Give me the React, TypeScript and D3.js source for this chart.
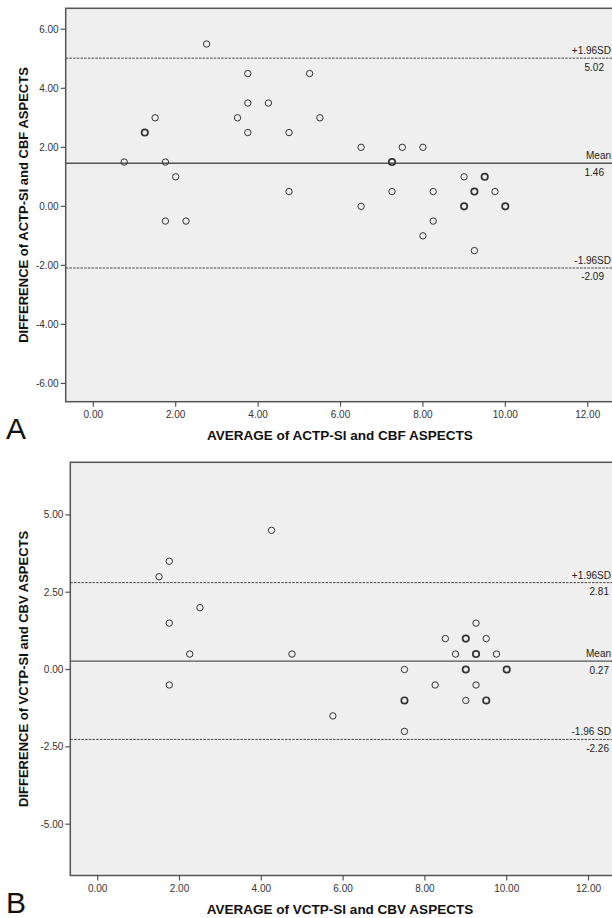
import React from 'react'
import * as d3 from 'd3'

// Panel A: ACTP-SI vs CBF ASPECTS (Bland-Altman)
const avgA = [0.75, 1.25, 1.5, 1.75, 2.0, 1.75, 2.25, 2.75, 3.5, 3.75, 3.75, 3.75, 4.25, 4.75, 4.75, 5.25, 5.5, 6.5, 6.5, 7.5, 8.0, 7.25, 7.25, 8.25, 8.25, 8.0, 9.25, 9.0, 9.5, 9.25, 9.75, 9.0, 10.0]
const diffA = [1.5, 2.5, 3.0, 1.5, 1.0, -0.5, -0.5, 5.5, 3.0, 4.5, 3.5, 2.5, 3.5, 2.5, 0.5, 4.5, 3.0, 2.0, 0.0, 2.0, 2.0, 1.5, 0.5, 0.5, -0.5, -1.0, -1.5, 1.0, 1.0, 0.5, 0.5, 0.0, 0.0]
const countA = [1, 2, 1, 1, 1, 1, 1, 1, 1, 1, 1, 1, 1, 1, 1, 1, 1, 1, 1, 1, 1, 2, 1, 1, 1, 1, 1, 1, 2, 2, 1, 2, 2]
const linesA = [5.02, 1.46, -2.09]
const lineTextA = ['+1.96SD', 'Mean', '-1.96SD']
const yTicksA = [-6, -4, -2, 0, 2, 4, 6]

// Panel B: VCTP-SI vs CBV ASPECTS
const avgB = [1.5, 1.75, 1.75, 2.5, 2.25, 1.75, 4.25, 4.75, 5.75, 7.5, 7.5, 7.5, 8.25, 9.0, 9.25, 9.0, 9.5, 10.0, 9.25, 8.5, 9.0, 9.5, 8.75, 9.25, 9.75]
const diffB = [3.0, 3.5, 1.5, 2.0, 0.5, -0.5, 4.5, 0.5, -1.5, 0.0, -1.0, -2.0, -0.5, 0.0, -0.5, -1.0, -1.0, 0.0, 1.5, 1.0, 1.0, 1.0, 0.5, 0.5, 0.5]
const countB = [1, 1, 1, 1, 1, 1, 1, 1, 1, 1, 2, 1, 1, 2, 1, 1, 2, 2, 1, 1, 2, 1, 1, 2, 1]
const linesB = [2.81, 0.27, -2.26]
const lineTextB = ['+1.96SD', 'Mean', '-1.96 SD']
const yTicksB = [-5, -2.5, 0, 2.5, 5]

const xTicks = [0, 2, 4, 6, 8, 10, 12]

const FONT = '"Liberation Sans", Arial, sans-serif'

type PanelProps = {
  letter: string
  left: number
  top: number
  bottom: number
  xUnit: number
  yDomain: [number, number]
  avg: number[]
  diff: number[]
  count: number[]
  lines: number[]
  lineText: string[]
  yTicks: number[]
  xTitle: string
  yTitle: string
  valueRight: number
}

function Panel(p: PanelProps) {
  const x = d3
    .scaleLinear()
    .domain([-0.67, 13])
    .range([p.left, p.left + 13.67 * p.xUnit])
  const y = d3.scaleLinear().domain(p.yDomain).range([p.bottom, p.top])
  const right = x(13)
  const yMid = (p.top + p.bottom) / 2

  return (
    <g fontFamily={FONT}>
      {/* plot background + frame */}
      <rect x={p.left} y={p.top} width={right - p.left} height={p.bottom - p.top} fill="#efefef" stroke="#555" strokeWidth={1.5} />

      {/* reference lines */}
      {p.lines.map((v, i) => (
        <line
          key={'l' + i}
          x1={p.left}
          x2={right}
          y1={y(v)}
          y2={y(v)}
          stroke={i === 1 ? '#555' : '#333'}
          strokeWidth={i === 1 ? 1.3 : 0.9}
          strokeDasharray={i === 1 ? undefined : '2.5,1.2'}
        />
      ))}
      {p.lines.map((v, i) => (
        <g key={'t' + i} fontSize={10} fill="#222">
          <text x={611} y={y(v) - 4} textAnchor="end">{p.lineText[i]}</text>
          <text x={p.valueRight} y={y(v) + 12.4} textAnchor="end">{v.toFixed(2)}</text>
        </g>
      ))}

      {/* points */}
      {p.avg.map((a, i) => (
        <circle
          key={'p' + i}
          cx={x(a)}
          cy={y(p.diff[i])}
          r={3.2}
          fill="none"
          stroke="#333"
          strokeWidth={p.count[i] > 1 ? 1.7 : 1}
        />
      ))}

      {/* y axis */}
      {p.yTicks.map((t) => (
        <g key={'y' + t}>
          <line x1={p.left - 5} x2={p.left} y1={y(t)} y2={y(t)} stroke="#555" strokeWidth={1.2} />
          <text x={p.left - 7} y={y(t) + 3.5} fontSize={10} textAnchor="end" fill="#333">
            {t.toFixed(2)}
          </text>
        </g>
      ))}

      {/* x axis */}
      {xTicks.map((t) => (
        <g key={'x' + t}>
          <line x1={x(t)} x2={x(t)} y1={p.bottom} y2={p.bottom + 5} stroke="#555" strokeWidth={1.2} />
          <text x={x(t)} y={p.bottom + 16.3} fontSize={10} textAnchor="middle" fill="#333">
            {t.toFixed(2)}
          </text>
        </g>
      ))}

      {/* titles */}
      <text x={340} y={p.bottom + 38} fontSize={13.5} fontWeight="bold" textAnchor="middle" fill="#111">
        {p.xTitle}
      </text>
      <text
        transform={`translate(28,${yMid}) rotate(-90)`}
        fontSize={13}
        fontWeight="bold"
        textAnchor="middle"
        fill="#111"
      >
        {p.yTitle}
      </text>
      <text x={6} y={p.bottom + 37} fontSize={30} fill="#111">
        {p.letter}
      </text>
    </g>
  )
}

export default function App() {
  return (
    <svg width={612} height={918} style={{ position: 'absolute', left: 0, top: 0, background: '#fff' }}>
      <Panel
        letter="A"
        left={65.7}
        top={8.3}
        bottom={401.7}
        xUnit={41.2}
        yDomain={[-6.62, 6.71]}
        avg={avgA}
        diff={diffA}
        count={countA}
        lines={linesA}
        lineText={lineTextA}
        yTicks={yTicksA}
        xTitle="AVERAGE of ACTP-SI and CBF ASPECTS"
        yTitle="DIFFERENCE of ACTP-SI and CBF ASPECTS"
        valueRight={604}
      />
      <Panel
        letter="B"
        left={70.3}
        top={462.3}
        bottom={875.5}
        xUnit={40.9}
        yDomain={[-6.66, 6.7]}
        avg={avgB}
        diff={diffB}
        count={countB}
        lines={linesB}
        lineText={lineTextB}
        yTicks={yTicksB}
        xTitle="AVERAGE of VCTP-SI and CBV ASPECTS"
        yTitle="DIFFERENCE of VCTP-SI and CBV ASPECTS"
        valueRight={609}
      />
    </svg>
  )
}
